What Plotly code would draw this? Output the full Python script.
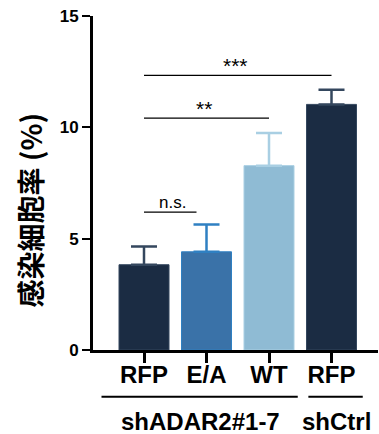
import plotly.graph_objects as go

# ---- data ----
categories = ["RFP", "E/A", "WT", "RFP"]
values = [3.83, 4.41, 8.28, 11.03]
errors = [0.82, 1.23, 1.46, 0.66]
bar_colors = ["#1b2c43", "#3a72a8", "#8fbbd4", "#1b2c43"]
err_colors = ["#34475e", "#2f80c2", "#a9cfe3", "#34475e"]
groups = ["shADAR2#1-7", "shCtrl"]
group_members = [[0, 1, 2], [3]]
comparisons = [(0, 1, "n.s."), (0, 2, "**"), (0, 3, "***")]
comparison_heights = [6.19, 10.41, 12.33]
y_ticks = [0, 5, 10, 15]
y_title = "感染細胞率 (%)"

xpos = list(range(len(categories)))

fig = go.Figure()
for i, (v, e) in enumerate(zip(values, errors)):
    fig.add_trace(go.Bar(
        x=[xpos[i]], y=[v], width=0.8,
        marker=dict(color=bar_colors[i], line=dict(color=err_colors[i], width=1)),
        error_y=dict(type="data", array=[e], arrayminus=[0], symmetric=False,
                     color=err_colors[i], thickness=2.5, width=13),
        showlegend=False,
    ))

# significance lines and labels
shapes = []
annotations = []
for (a, b, label), h in zip(comparisons, comparison_heights):
    end = b if label != "n.s." else a + 0.84
    shapes.append(dict(type="line", xref="x", yref="y", x0=a, x1=end, y0=h, y1=h,
                       line=dict(color="black", width=1.2)))
    if label == "n.s.":
        xc = (a + end) / 2 + 0.04
        size, ys = 17, -2
    else:
        xc = (a + b) / 2 - 0.04
        size, ys = 21, -4
    annotations.append(dict(x=xc, y=h, xref="x", yref="y",
                            text=label, showarrow=False, yanchor="bottom",
                            yshift=ys,
                            font=dict(family="Arial, Liberation Sans", size=size, color="black")))

# group lines and labels below the axis
group_spans = [(-0.68, 0.46), (-0.37, 0.5)]
for g, members, (lo, hi) in zip(groups, group_members, group_spans):
    x0 = members[0] + lo
    x1 = members[-1] + hi
    shapes.append(dict(type="line", xref="x", yref="paper", x0=x0, x1=x1,
                       y0=-0.14, y1=-0.14, line=dict(color="black", width=2)))
    annotations.append(dict(x=(x0 + x1) / 2 + 0.01, y=-0.215, xref="x", yref="paper",
                            text="<b>%s</b>" % g, showarrow=False, yanchor="middle",
                            font=dict(family="Arial, Liberation Sans", size=24, color="black")))

# y-axis title
annotations.append(dict(x=-0.222, y=0.42, xref="paper", yref="paper", text=y_title,
                        textangle=-90, showarrow=False, xanchor="center", yanchor="middle",
                        font=dict(family="Noto Sans CJK JP", size=28, color="black", weight="bold")))

fig.update_layout(
    width=379, height=434,
    margin=dict(l=93, r=1, t=16, b=84),
    plot_bgcolor="white", paper_bgcolor="white",
    barmode="overlay",
    shapes=shapes, annotations=annotations,
    xaxis=dict(range=[-0.816, 3.744], tickvals=xpos,
               ticktext=["<b>%s</b>" % c for c in categories],
               tickfont=dict(family="Arial, Liberation Sans", size=24, color="black"),
               ticklabelstandoff=-9,
               showline=True, linecolor="black", linewidth=3,
               ticks="outside", ticklen=10, tickwidth=2.5, tickcolor="black",
               showgrid=False, zeroline=False),
    yaxis=dict(range=[0, 15], tickvals=y_ticks,
               ticktext=["<b>%d</b>" % t for t in y_ticks],
               tickfont=dict(family="Arial, Liberation Sans", size=17, color="black"),
               showline=True, linecolor="black", linewidth=3,
               ticks="outside", ticklen=8, tickwidth=2, tickcolor="black",
               showgrid=False, zeroline=False),
)

fig.write_html("out.html")
